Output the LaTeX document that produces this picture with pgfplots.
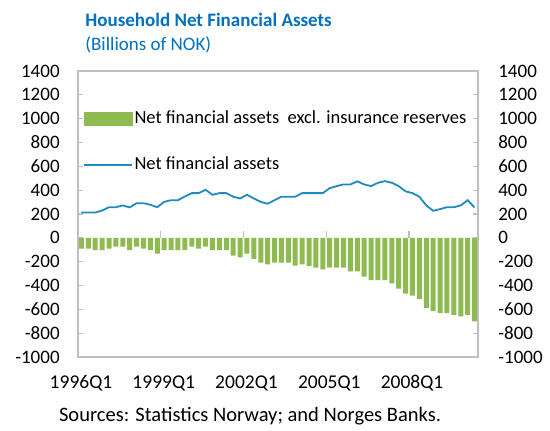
\documentclass[border=0pt]{standalone}
\usepackage{fontspec}
\setmainfont{Carlito}
\usepackage{pgfplots}
\usepackage{pgfplotstable}
\pgfplotsset{compat=1.18}
\definecolor{barg}{HTML}{8DBB50}
\definecolor{lineb}{HTML}{1F8AC0}
\definecolor{titleb}{HTML}{0070C0}
\definecolor{frameg}{HTML}{BFBFBF}

\pgfplotstableread{
q bar line
1 -90 212
2 -90 212
3 -104 212
4 -104 229
5 -90 257
6 -73 257
7 -73 272
8 -104 255
9 -73 291
10 -90 291
11 -104 277
12 -132 257
13 -104 302
14 -104 316
15 -104 316
16 -104 347
17 -73 375
18 -90 375
19 -73 403
20 -104 361
21 -104 375
22 -104 375
23 -149 345
24 -163 330
25 -132 361
26 -177 330
27 -208 302
28 -222 286
29 -208 316
30 -208 345
31 -208 345
32 -233 345
33 -222 375
34 -236 375
35 -250 375
36 -264 375
37 -250 417
38 -250 434
39 -250 448
40 -281 448
41 -281 474
42 -326 448
43 -354 434
44 -354 462
45 -354 476
46 -382 462
47 -427 434
48 -469 390
49 -486 375
50 -514 345
51 -587 272
52 -615 227
53 -632 241
54 -632 257
55 -646 257
56 -660 272
57 -646 316
58 -702 255
}\datatable

\begin{document}
\fontsize{18.5}{22}\selectfont
\begin{tikzpicture}
\useasboundingbox (0,0) rectangle (550pt,431pt);
\begin{axis}[
  at={(78pt,74pt)}, anchor=south west,
  scale only axis, width=400pt, height=286pt,
  xmin=0.5, xmax=58.5, ymin=-1000, ymax=1400,
  axis line style={frameg, line width=1.2pt},
  tick style={frameg, line width=1.2pt},
  major tick length=5pt, tick align=inside,
  ytick={-1000,-800,...,1400},
  yticklabels={-1000,-800,-600,-400,-200,0,200,400,600,800,1000,1200,1400},
  ytick pos=both, yticklabel pos=left,
  yticklabel style={font=\fontsize{19}{22}\selectfont, xshift=-12pt},
  xtick={0.5,12.5,24.5,36.5,48.5},
  xticklabels={1996Q1,1999Q1,2002Q1,2005Q1,2008Q1},
  xtick style={draw=none},
  xticklabel style={font=\fontsize{19.5}{22}\selectfont, yshift=-12pt, xshift=3pt},
  legend style={at={(0.0075,0.875)}, anchor=north west, draw=none, fill=none,
     font=\fontsize{18.5}{22}\selectfont, row sep=28pt, inner sep=2pt,
     nodes={inner sep=1.5pt}},
  legend cell align=left,
  clip=false,
]
\addlegendimage{legend image code/.code={\fill[barg] (0pt,-6.5pt) rectangle (48pt,6.5pt);}}
\addlegendentry{Net financial assets\ \ excl. insurance reserves}
\addplot[ybar, bar width=5pt, fill=barg, draw=none, forget plot]
  table[x=q, y=bar] {\datatable};
\addplot[lineb, line width=1.8pt, mark=none,
  legend image code/.code={\draw[lineb, line width=1.8pt] (0pt,0pt) -- (48pt,0pt);}]
  table[x=q, y=line] {\datatable};
\addlegendentry{Net financial assets}
\foreach \t in {12.5,24.5,36.5,48.5}{
  \edef\temp{\noexpand\draw[frameg, line width=1.2pt] (axis cs:\t,0) -- ++(0pt,7pt);}
  \temp
}
\end{axis}
\begin{axis}[
  at={(78pt,74pt)}, anchor=south west,
  scale only axis, width=400pt, height=286pt,
  xmin=0.5, xmax=58.5, ymin=-1000, ymax=1400,
  axis y line*=right, axis x line=none,
  axis line style={draw=none},
  ytick={-1000,-800,...,1400},
  yticklabels={-1000,-800,-600,-400,-200,0,200,400,600,800,1000,1200,1400},
  ytick style={draw=none},
  yticklabel style={font=\fontsize{19}{22}\selectfont, anchor=west, xshift=14pt},
]
\addplot[draw=none] coordinates {(1,0)};
\end{axis}
\node[anchor=base west, text=titleb, font=\fontsize{19}{22}\selectfont\bfseries] at (79pt,404pt) {Household Net Financial Assets};
\node[anchor=base west, text=titleb, font=\fontsize{19}{22}\selectfont] at (79pt,380pt) {(Billions of NOK)};
\node[anchor=base, font=\fontsize{20.5}{24}\selectfont] at (250pt,9pt) {Sources: Statistics Norway; and Norges Banks.};
\end{tikzpicture}
\end{document}
